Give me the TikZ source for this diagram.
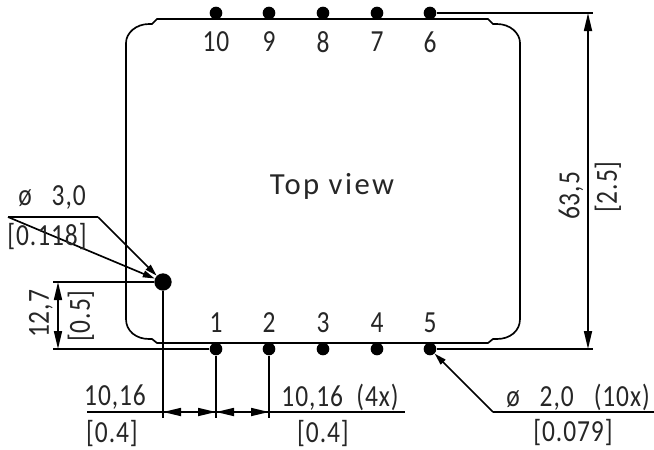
\documentclass[tikz,border=0pt]{standalone}
\usepackage{fontspec}
\usetikzlibrary{arrows.meta}
\setmainfont{Carlito}[FakeStretch=0.83, LetterSpace=3]
\newfontfamily\titlefont{Carlito}[LetterSpace=8]
\tikzset{>={Stealth[length=13.5pt,width=6pt,inset=0pt]}}
\tikzset{line/.style={line width=1.25pt}}
\tikzset{pin/.style={circle, fill=black, inner sep=0pt, minimum size=9.5pt}}
\tikzset{dimtext/.style={font=\fontsize{23}{23}\selectfont, inner sep=0pt, text=black!85}}
\begin{document}
\begin{tikzpicture}[x=0.75pt, y=-0.75pt]
    \useasboundingbox (0,0) rectangle (654,450);
    % body outline
    \draw [line] (157,19) -- (488,19) -- (493,24) -- (497,24)
        .. controls (510,24) and (520,33) .. (520,43) -- (520,319)
        .. controls (520,331) and (510,339) .. (497,339) -- (493,339) -- (488,343)
        -- (157,343) -- (152,339) -- (149,339)
        .. controls (136,339) and (126,331) .. (126,319) -- (126,43)
        .. controls (126,33) and (136,24) .. (149,24) -- (152,24) -- cycle;
    % pins
    \foreach \n/\x in {1/216, 2/269, 3/323, 4/377, 5/430} {
        \node [pin] (pin\n) at (\x,349) {};
        \node [dimtext] (num\n) at (\x,323) {\n};
    }
    \foreach \n/\x in {10/216, 9/269, 8/323, 7/377, 6/430} {
        \node [pin] (pin\n) at (\x,13) {};
        \node [dimtext] (num\n) at (\x,42) {\n};
    }
    \node [pin, minimum size=13pt] (hole) at (163,282) {};
    \node [dimtext, font=\fontsize{23}{23}\titlefont] (title) at (332,186) {Top view};

    % height of the hole
    \coordinate (hL) at (53,282);
    \coordinate (bL) at (53,349);
    \coordinate (hA) at (58,282);
    \coordinate (bA) at (58,349);
    \draw [line] (hole) -- (hL);
    \draw [line] (pin1) -- (bL);
    \draw [line, <->] (hA) -- (bA);
    \node [dimtext, rotate=90] (hMm) at (41,314) {12,7};
    \node [dimtext, rotate=90] (hIn) at (81,316) {[0.5]};

    % pitch
    \coordinate (d0) at (163,412);
    \coordinate (d1) at (216,412);
    \coordinate (d2) at (269,412);
    \coordinate (dL) at (87,412);
    \coordinate (dR) at (405,412);
    \draw [line] (hole) -- (163,418);
    \draw [line] (pin1) -- (216,418);
    \draw [line] (pin2) -- (269,418);
    \draw [line] (dL) -- (dR);
    \draw [line, <->] (d0) -- (d1);
    \draw [line, <->] (d1) -- (d2);
    \node [dimtext] (pitchA) at (115,397) {10,16};
    \node [dimtext] (pitchB) at (112,434) {[0.4]};
    \node [dimtext] (pitchC) at (340,397) {10,16\ \ (4x)};
    \node [dimtext] (pitchD) at (323,434) {[0.4]};

    % total height
    \coordinate (tE) at (593,13);
    \coordinate (uE) at (593,349);
    \coordinate (tA) at (588,13);
    \coordinate (uA) at (588,349);
    \draw [line] (pin6) -- (tE);
    \draw [line] (pin5) -- (uE);
    \draw [line, <->] (tA) -- (uA);
    \node [dimtext, rotate=90] (totalMm) at (571,196) {63,5};
    \node [dimtext, rotate=90] (totalIn) at (608,187) {[2.5]};

    % hole leader
    \coordinate (lA) at (8,217);
    \coordinate (lB) at (98,217);
    \draw [line, -{Stealth[length=9pt,width=5pt,inset=0pt]}] (lA) -- (hole);
    \draw [line] (lA) -- (lB);
    \draw [line, -{Stealth[length=9pt,width=5pt,inset=0pt]}] (lB) -- (hole);
    \node [dimtext] (holeMm) at (52,198) {ø\ \ \ 3,0};
    \node [dimtext] (holeIn) at (47,237) {[0.118]};

    % pin leader
    \coordinate (pA) at (493,412);
    \coordinate (pB) at (654,412);
    \draw [line] (pB) -- (pA);
    \draw [line, -{Stealth[length=9pt,width=5pt,inset=0pt]}] (pA) -- (pin5);
    \node [dimtext] (pinMm) at (578,397) {ø\ \ \ 2,0\ \ \ (10x)};
    \node [dimtext] (pinIn) at (573,433) {[0.079]};
\end{tikzpicture}
\end{document}
